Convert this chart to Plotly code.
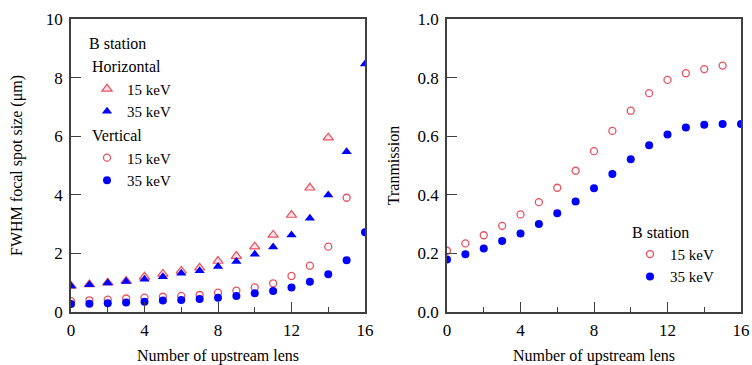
import plotly.graph_objects as go

lens = list(range(17))

# Left panel: FWHM focal spot size (um)
h15 = [0.89, 0.94, 1.00, 1.06, 1.20, 1.30, 1.40, 1.51, 1.74, 1.91, 2.23, 2.63, 3.31, 4.24, 5.95, None, None]
h35 = [0.89, 0.93, 0.99, 1.04, 1.12, 1.20, 1.32, 1.41, 1.55, 1.72, 1.97, 2.22, 2.63, 3.20, 3.99, 5.47, 8.46]
v15 = [0.37, 0.40, 0.42, 0.46, 0.49, 0.52, 0.55, 0.58, 0.66, 0.73, 0.84, 0.98, 1.23, 1.58, 2.23, 3.90, None]
v35 = [0.27, 0.28, 0.30, 0.32, 0.35, 0.39, 0.41, 0.44, 0.49, 0.55, 0.64, 0.72, 0.84, 1.03, 1.29, 1.77, 2.72]

# Right panel: transmission
t15 = [0.209, 0.234, 0.262, 0.294, 0.333, 0.375, 0.424, 0.482, 0.549, 0.618, 0.687, 0.747, 0.792, 0.815, 0.829, 0.841, None]
t35 = [0.179, 0.197, 0.217, 0.242, 0.268, 0.300, 0.337, 0.377, 0.422, 0.471, 0.521, 0.569, 0.606, 0.630, 0.639, 0.642, 0.642]

x_ticks = [0, 4, 8, 12, 16]
y1_ticks = [0, 2, 4, 6, 8, 10]
y2_ticks = [0.0, 0.2, 0.4, 0.6, 0.8, 1.0]

FONT = "Liberation Serif"
RED = "#e8505e"
BLUE = "#0000ff"

fig = go.Figure()

fig.add_trace(go.Scatter(x=lens, y=h15, mode="markers", name="15 keV", legend="legend",
                         legendgroup="h", legendgrouptitle=dict(text="Horizontal", font=dict(size=16)),
                         marker=dict(symbol="triangle-up", size=9, color="#fde2e8",
                                     line=dict(color=RED, width=1.2)),
                         xaxis="x", yaxis="y"))
fig.add_trace(go.Scatter(x=lens, y=h35, mode="markers", name="35 keV", legend="legend",
                         legendgroup="h",
                         marker=dict(symbol="triangle-up", size=9, color=BLUE, line=dict(width=0)),
                         xaxis="x", yaxis="y"))
fig.add_trace(go.Scatter(x=lens, y=v15, mode="markers", name="15 keV", legend="legend",
                         legendgroup="v", legendgrouptitle=dict(text="Vertical", font=dict(size=16)),
                         marker=dict(symbol="circle", size=7, color="white",
                                     line=dict(color=RED, width=1.3)),
                         xaxis="x", yaxis="y"))
fig.add_trace(go.Scatter(x=lens, y=v35, mode="markers", name="35 keV", legend="legend",
                         legendgroup="v",
                         marker=dict(symbol="circle", size=8, color=BLUE, line=dict(width=0)),
                         xaxis="x", yaxis="y"))

fig.add_trace(go.Scatter(x=lens, y=t15, mode="markers", name="15 keV", legend="legend2",
                         marker=dict(symbol="circle", size=7, color="white",
                                     line=dict(color=RED, width=1.3)),
                         xaxis="x2", yaxis="y2"))
fig.add_trace(go.Scatter(x=lens, y=t35, mode="markers", name="35 keV", legend="legend2",
                         marker=dict(symbol="circle", size=8, color=BLUE, line=dict(width=0)),
                         xaxis="x2", yaxis="y2"))

W, H = 752, 365
ML, MR, MT, MB = 71, 11, 19, 53
PW = W - ML - MR
PH = H - MT - MB
AX = "#404040"

def xaxis(domain, anchor):
    return dict(domain=domain, anchor=anchor, range=[0, 16], tickvals=x_ticks,
                ticktext=[str(v) for v in x_ticks], ticks="inside", ticklen=10, tickwidth=1.3,
                tickcolor=AX, showline=True, linecolor=AX, linewidth=1.6, mirror=True,
                showgrid=False, zeroline=False, automargin=False,
                minor=dict(tickvals=[2, 6, 10, 14], ticks="inside", ticklen=5, tickwidth=1.3,
                           tickcolor=AX, showgrid=False),
                tickfont=dict(size=17, color="black"), ticklabelstandoff=2,
                title=dict(text="Number of upstream lens", font=dict(size=16, color="black"),
                           standoff=11))

def yaxis(domain, anchor, rng, ticks, fmt, title, standoff):
    return dict(domain=domain, anchor=anchor, range=rng, tickvals=ticks,
                ticktext=[fmt.format(v) for v in ticks], ticks="inside", ticklen=10,
                tickwidth=1.3, tickcolor=AX, showline=True, linecolor=AX, linewidth=1.6,
                mirror=True, showgrid=False, zeroline=False, automargin=False,
                tickfont=dict(size=17, color="black"), ticklabelstandoff=3,
                title=dict(text=title, font=dict(size=16, color="black"), standoff=standoff))

fig.update_layout(
    width=W, height=H, margin=dict(l=ML, r=MR, t=MT, b=MB, autoexpand=False),
    paper_bgcolor="white", plot_bgcolor="white",
    font=dict(family=FONT, size=16, color="black"),
    xaxis=xaxis([0, (365 - ML) / PW], "y"),
    yaxis=yaxis([0, 1], "x", [0, 10], y1_ticks, "{:d}", "FWHM focal spot size (\u03bcm)", 19),
    xaxis2=xaxis([(447 - ML) / PW, 1], "y2"),
    yaxis2=yaxis([0, 1], "x2", [0, 1], y2_ticks, "{:.1f}", "Tranmission", 14),
    legend=dict(x=(87 - ML) / PW, y=1 - (28 - MT) / PH, xanchor="left", yanchor="top",
                bgcolor="rgba(0,0,0,0)", tracegroupgap=0, borderwidth=0,
                title=dict(text="B station", font=dict(size=16)),
                font=dict(size=15, family=FONT)),
    legend2=dict(x=(630 - ML) / PW, y=1 - (217 - MT) / PH, xanchor="left", yanchor="top",
                 bgcolor="rgba(0,0,0,0)", borderwidth=0,
                 title=dict(text="B station", font=dict(size=16)),
                 font=dict(size=15, family=FONT)),
    showlegend=True,
)

fig.write_html("out.html", config={"displayModeBar": False},
               post_script="document.body.style.margin='0';document.body.style.overflow='hidden';")
